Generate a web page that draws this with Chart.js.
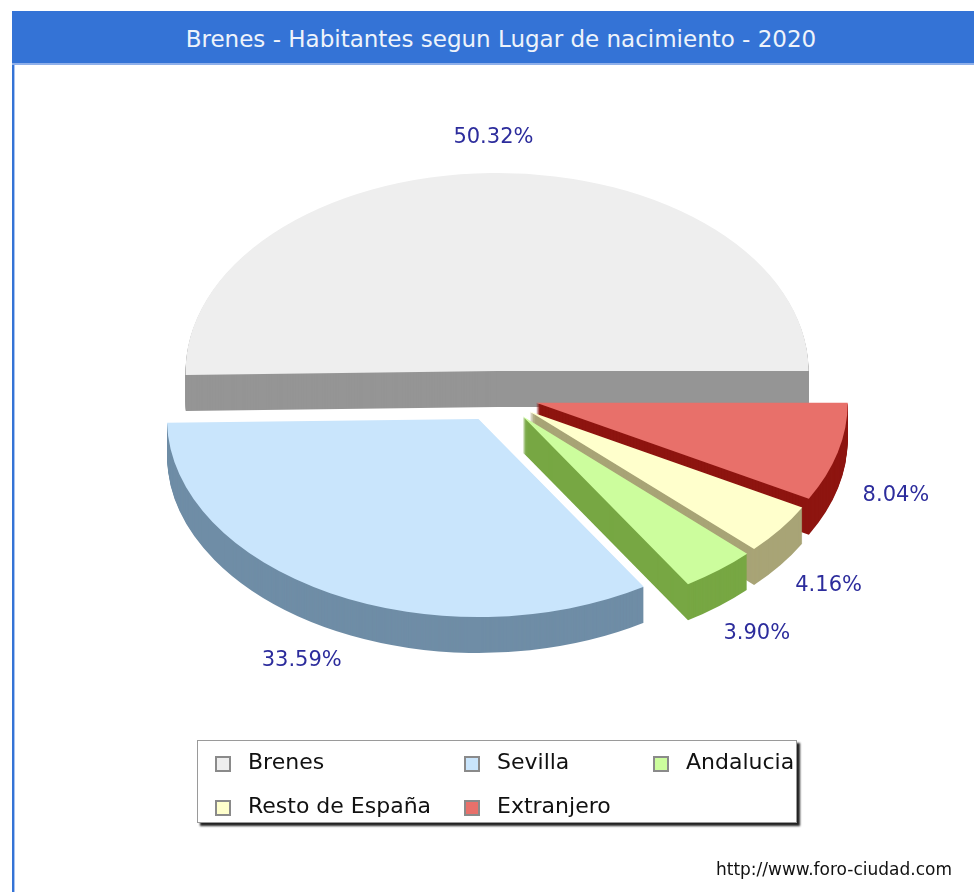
<!DOCTYPE html>
<html>
<head>
<meta charset="utf-8">
<script src="https://cdn.jsdelivr.net/npm/chart.js@4"></script>
<style>
  html, body { margin: 0; padding: 0; background: #fff; }
  body { width: 974px; height: 892px; position: relative; overflow: hidden; font-family: 'DejaVu Sans', sans-serif; }
  #titleBar {
    position: absolute; left: 12px; top: 11px; width: 962px; height: 54px;
    background: #3473d6; color: #eef3fb; font-size: 23px; line-height: 56px;
    text-align: center; padding-left: 16px; box-sizing: border-box;
    border-bottom: 2px solid #8fb0ea;
  }
  #leftLine { position: absolute; left: 12px; top: 65px; width: 2px; height: 827px; background: #3473d6; border-right: 1px solid #a9c3f0; }
  #myChart { position: absolute; left: 0; top: 0; }
  #legendBox {
    position: absolute; left: 197px; top: 740px; width: 600px; height: 83px;
    border: 1px solid #9a9a9a; box-sizing: border-box; background: #fff;
    box-shadow: 3px 3px 2px #222;
  }
  .item { position: absolute; font-size: 22px; color: #111; line-height: 24px; white-space: nowrap; }
  .item span.box { position: absolute; left: 0; top: 6px; width: 12px; height: 12px; border: 2px solid #8a8a8a; }
  .item span.txt { position: absolute; left: 33px; top: 0; }
  #footer { position: absolute; right: 22px; top: 859px; font-size: 17px; color: #111; }
</style>
</head>
<body>
<div id="titleBar">Brenes - Habitantes segun Lugar de nacimiento - 2020</div>
<div id="leftLine"></div>
<canvas id="myChart" width="974" height="892"></canvas>
<div id="legendBox"></div>
<div id="footer">http://www.foro-ciudad.com</div>
<script>
'use strict';

// Categories and values (percent), legend order
const places = ['Brenes', 'Sevilla', 'Andalucia', 'Resto de España', 'Extranjero'];
const shares = [50.32, 33.59, 3.90, 4.16, 8.04];
const topColors = ['#eeeeee', '#c9e5fc', '#ccfd9d', '#ffffcc', '#e8706a'];
const sideColors = ['#959595', '#6f8da6', '#77a743', '#a8a476', '#8e1510'];

// legend columns / rows
const legendCols = [17, 266, 455];
const legendRows = [9, 53];

const tilt = 0.636;   // vertical squash of the pie
const depth = 36;     // thickness in px
const explode = 40;   // distance each slice is pulled out

// pie is drawn counter-clockwise in the picture, so feed the slices reversed
const order = [4, 3, 2, 1, 0];
const pieLabels = order.map(i => places[i]);
const pieData = order.map(i => shares[i]);
const pieTop = order.map(i => topColors[i]);
const pieSide = order.map(i => sideColors[i]);

// build legend
const legendBox = document.getElementById('legendBox');
for (let i = 0; i < places.length; i++) {
  let item = document.createElement('div');
  item.className = 'item';
  item.style.left = legendCols[i % 3] + 'px';
  item.style.top = legendRows[Math.floor(i / 3)] + 'px';
  let box = document.createElement('span');
  box.className = 'box';
  box.style.background = topColors[i];
  let txt = document.createElement('span');
  txt.className = 'txt';
  txt.textContent = places[i];
  item.appendChild(box);
  item.appendChild(txt);
  legendBox.appendChild(item);
}

function midAngle(arc) {
  const p = arc.getProps(['startAngle', 'endAngle']);
  return (p.startAngle + p.endAngle) / 2;
}

function sidePath(ctx, arc) {
  const p = arc.getProps(['x', 'y', 'startAngle', 'endAngle', 'outerRadius']);
  ctx.beginPath();
  ctx.moveTo(p.x, p.y);
  ctx.arc(p.x, p.y, p.outerRadius, p.startAngle, p.endAngle);
  ctx.closePath();
}

// squash the pie into an ellipse, pull slices out and give it some thickness
const pie3d = {
  id: 'pie3d',
  beforeDatasetDraw(chart, args) {
    const ctx = chart.ctx;
    const meta = args.meta;
    const cy = meta.data[0].y;
    ctx.save();
    ctx.translate(0, cy);
    ctx.scale(1, tilt);
    ctx.translate(0, -cy);
    // sides
    for (let d = depth; d > 0; d--) {
      meta.data.forEach((arc, i) => {
        const m = midAngle(arc);
        ctx.save();
        ctx.translate(Math.cos(m) * explode, Math.sin(m) * explode + d / tilt);
        ctx.fillStyle = pieSide[i];
        sidePath(ctx, arc);
        ctx.fill();
        ctx.restore();
      });
    }
    // tops, drawn by the arc elements
    meta.data.forEach(arc => {
      const m = midAngle(arc);
      ctx.save();
      ctx.translate(Math.cos(m) * explode, Math.sin(m) * explode);
      arc.draw(ctx);
      ctx.restore();
    });
    ctx.restore();

    // percentage labels
    ctx.save();
    ctx.font = '21px "DejaVu Sans"';
    ctx.fillStyle = '#2c2c9c';
    ctx.textAlign = 'center';
    ctx.textBaseline = 'middle';
    meta.data.forEach((arc, i) => {
      const m = midAngle(arc);
      const r = arc.outerRadius + 100;
      const sy = Math.sin(m);
      const lx = arc.x + Math.cos(m) * r;
      const ly = arc.y + sy * r * tilt + (sy > 0 ? depth * 0.85 : 0) + 3;
      ctx.fillText(pieData[i].toFixed(2) + '%', lx, ly);
    });
    ctx.restore();
    return false;
  }
};

const ctx = document.getElementById('myChart').getContext('2d');
const chart = new Chart(ctx, {
  type: 'pie',
  data: {
    labels: pieLabels,
    datasets: [{
      data: pieData,
      backgroundColor: pieTop,
      borderWidth: 0
    }]
  },
  options: {
    responsive: false,
    animation: false,
    rotation: 90,
    layout: { padding: { left: 186, right: 165, top: 85, bottom: 184 } },
    plugins: {
      legend: { display: false },
      tooltip: { enabled: false }
    }
  },
  plugins: [pie3d]
});
</script>
</body>
</html>
